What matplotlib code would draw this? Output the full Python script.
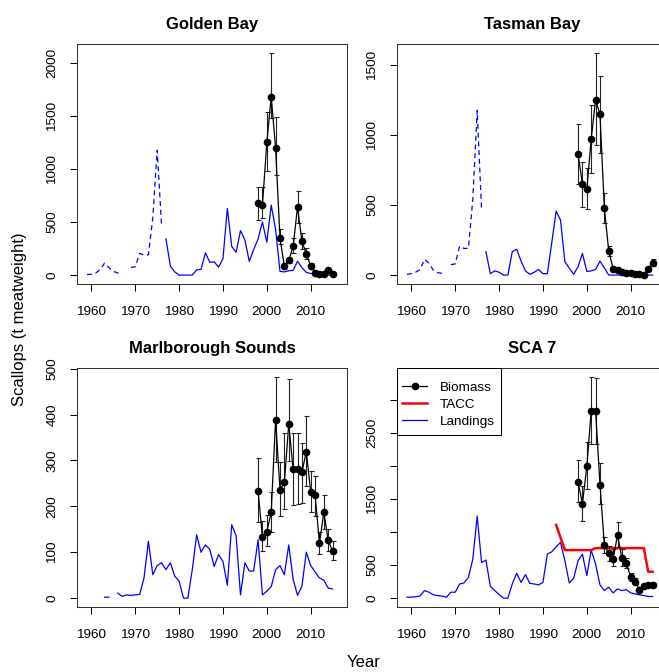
import numpy as np
import matplotlib
matplotlib.use('Agg')
import matplotlib.pyplot as plt
from matplotlib.patches import Rectangle

plt.rcParams['font.family'] = ['Liberation Sans', 'DejaVu Sans']

nan = np.nan

# Years
all_years = np.arange(1959, 2016)
early_years = np.arange(1959, 1977)
late_years = np.arange(1977, 2016)
bio_years = np.arange(1998, 2016)
tacc_years = np.arange(1993, 2016)

# Golden Bay landings (dashed = early combined records)
gb_early = [5, 8, 20, 50, 113, 70, 35, 20, 5, nan, 72, 78, 205, 188, 191, 540, 1177, 470]
gb_late = [342, 85, 30, 0, 0, 0, 0, 50, 53, 210, 120, 125, 75, 155, 628, 270, 215, 420, 330, 130,
           240, 340, 500, 310, 660, 430, 35, 30, 40, 45, 130, 70, 25, 15, 10, 5, 2, 0, 0]
gb_bio = [678, 659, 1250, 1680, 1200, 349, 82, 138, 270, 644, 317, 201, 85, 19, 6, 8, 44, 13]
gb_lo = [521, 540, 980, 1482, 942, 289, 60, 116, 210, 493, 242, 154, 60, 10, 2, 3, 30, 6]
gb_hi = [832, 832, 1535, 2094, 1488, 436, 116, 163, 352, 797, 399, 251, 116, 28, 10, 13, 58, 20]

# Tasman Bay
tb_early = [5, 10, 21, 40, 113, 85, 35, 17, 12, nan, 74, 80, 207, 190, 191, 540, 1177, 469]
tb_late = [167, 10, 30, 20, 0, 0, 167, 185, 100, 30, 5, 20, 40, 10, 10, 230, 457, 393, 95, 50,
           5, 60, 155, 25, 30, 40, 100, 50, 0, 0, 0, 0, 0, 0, 0, 0, 0, 0, 0]
tb_bio = [867, 648, 612, 974, 1255, 1148, 476, 171, 45, 36, 21, 12, 12, 10, 5, 2, 40, 88]
tb_lo = [648, 488, 474, 731, 929, 874, 374, 136, 35, 28, 15, 8, 8, 6, 2, 0, 28, 66]
tb_hi = [1083, 810, 767, 1219, 1588, 1426, 588, 207, 55, 44, 27, 16, 16, 14, 8, 4, 52, 112]

# Marlborough Sounds
ms_land = [nan, nan, nan, nan, 2, 2, nan, 11, 4, 7, 6, 7, 8, 44, 124, 51, 71, 77, 62, 77,
           48, 37, 0, 0, 62, 138, 100, 116, 106, 69, 95, 80, 28, 160, 135, 7, 77, 59, 59, 127,
           7, 15, 25, 62, 71, 51, 116, 41, 6, 26, 100, 71, 57, 44, 39, 22, 20]
ms_bio = [234, 133, 145, 187, 389, 236, 252, 379, 281, 281, 274, 319, 232, 225, 120, 187, 126, 102]
ms_lo = [166, 102, 113, 145, 296, 178, 194, 299, 203, 205, 208, 245, 187, 179, 96, 151, 102, 84]
ms_hi = [305, 167, 182, 231, 482, 296, 360, 478, 360, 359, 337, 396, 276, 267, 145, 224, 150, 124]

# SCA 7
sca_land = [15, 15, 20, 35, 115, 90, 50, 40, 30, 15, 90, 90, 215, 230, 315, 590, 1245, 540, 577, 180,
            115, 55, 0, 0, 215, 376, 240, 356, 225, 215, 200, 240, 667, 702, 778, 843, 567, 230, 300, 567,
            667, 341, 728, 517, 200, 115, 165, 80, 140, 115, 130, 80, 65, 50, 40, 25, 25]
sca_tacc = [1109, 918, 728, 728, 728, 728, 728, 728, 728, 758, 758, 758, 758, 758, 758, 758, 758,
            758, 758, 758, 758, 401, 401]
sca_bio = [1761, 1430, 1997, 2835, 2835, 1721, 803, 677, 592, 958, 602, 532, 316, 251, 130, 191, 206, 206]
sca_lo = [1455, 1169, 1646, 2338, 2338, 1420, 677, 567, 482, 768, 482, 452, 266, 216, 110, 171, 186, 186]
sca_hi = [2097, 1696, 2358, 3352, 3337, 2047, 933, 793, 743, 1154, 743, 602, 381, 301, 150, 211, 226, 226]

W, H = 659, 672
fig = plt.figure(figsize=(W / 100, H / 100), dpi=100)


def make_ax(left, top, right, bottom):
    return fig.add_axes([left / W, 1 - bottom / H, (right - left) / W, (bottom - top) / H])


def style(ax, title, ylim, yticks, ylabels=None):
    ax.set_xlim(1956.72, 2018.28)
    ax.set_ylim(*ylim)
    ax.set_xticks(np.arange(1960, 2011, 10))
    ax.set_yticks(yticks)
    if ylabels is not None:
        ax.set_yticklabels(ylabels)
    ax.tick_params(axis='both', direction='out', length=5, width=0.75, labelsize=9.7, color='black')
    ax.tick_params(axis='x', pad=10.5)
    ax.tick_params(axis='y', pad=8.5)
    plt.setp(ax.get_yticklabels(), rotation=90, va='center')
    for s in ax.spines.values():
        s.set_linewidth(0.75)
        s.set_color('#333333')
    ax.set_title(title, fontsize=12, fontweight='bold', pad=11)


def biomass(ax, b, lo, hi):
    b = np.array(b, dtype=float)
    err = [b - np.array(lo), np.array(hi) - b]
    ax.errorbar(bio_years, b, yerr=err, fmt='none', ecolor='#222222', elinewidth=0.8,
                capsize=1.8, capthick=0.8, zorder=3)
    line, = ax.plot(bio_years, b, '-', color='black', lw=0.9, marker='o', ms=4.5, zorder=4)
    return line


# Golden Bay
ax1 = make_ax(77, 44, 347, 284)
ax1.plot(early_years, gb_early, color='blue', lw=0.9, dashes=(4, 3))
ax1.plot(late_years, gb_late, '-', color='blue', lw=0.9)
biomass(ax1, gb_bio, gb_lo, gb_hi)
style(ax1, 'Golden Bay', (-84, 2178), [0, 500, 1000, 1500, 2000])

# Tasman Bay
ax2 = make_ax(397, 44, 667, 284)
ax2.plot(early_years, tb_early, color='blue', lw=0.9, dashes=(4, 3))
ax2.plot(late_years, tb_late, '-', color='blue', lw=0.9)
biomass(ax2, tb_bio, tb_lo, tb_hi)
style(ax2, 'Tasman Bay', (-64, 1652), [0, 500, 1000, 1500])

# Marlborough Sounds
ax3 = make_ax(77, 368, 347, 607)
ax3.plot(all_years, ms_land, '-', color='blue', lw=0.9)
biomass(ax3, ms_bio, ms_lo, ms_hi)
style(ax3, 'Marlborough Sounds', (-19.3, 501.3), [0, 100, 200, 300, 400, 500])

# SCA 7
ax4 = make_ax(397, 368, 667, 607)
land_line, = ax4.plot(all_years, sca_land, '-', color='blue', lw=0.9)
tacc_line, = ax4.plot(tacc_years, sca_tacc, '-', color='red', lw=1.8)
bio_line = biomass(ax4, sca_bio, sca_lo, sca_hi)
style(ax4, 'SCA 7', (-134, 3486), [0, 500, 1000, 1500, 2000, 2500, 3000],
      ['0', '500', '', '1500', '', '2500', ''])

# legend box drawn like R's (more room above first entry)
ax4.add_patch(Rectangle((0, 1 - 67 / 239), 104 / 270, 67 / 239, transform=ax4.transAxes,
                        facecolor='white', edgecolor='black', lw=0.75, zorder=5))
leg = ax4.legend([bio_line, tacc_line, land_line], ['Biomass', 'TACC', 'Landings'], loc='upper left',
                 bbox_to_anchor=(0, 1 - 9 / 239), borderaxespad=0, frameon=False,
                 fontsize=9.7, handlelength=1.9, handletextpad=0.9, labelspacing=0.33,
                 borderpad=0.35)
leg.set_zorder(6)

fig.text(20 / W, 1 - 319 / H, 'Scallops (t meatweight)', rotation=90, ha='center', va='center', fontsize=12)
fig.text(364 / W, 0.003, 'Year', ha='center', va='bottom', fontsize=12)

plt.savefig('out.png', dpi=100)
